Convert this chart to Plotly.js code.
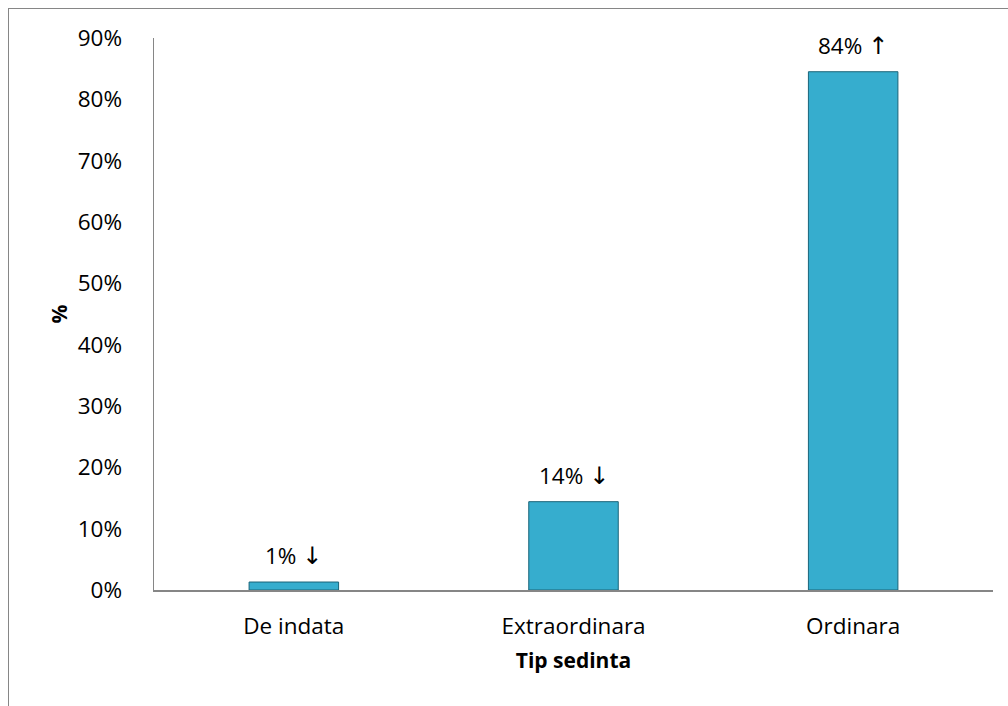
<!DOCTYPE html>
<html>
<head>
<meta charset="utf-8">
<script src="https://cdn.plot.ly/plotly-3.0.1.min.js"></script>
<style>
  html, body { margin: 0; padding: 0; background: #fff; overflow: hidden; }
  #wrap { position: relative; width: 1008px; height: 706px; overflow: hidden; }
  #chart { position: absolute; left: 0; top: 0; width: 1008px; height: 706px; }
  #frame { position: absolute; left: 8px; top: 8px; width: 1200px; height: 900px;
           border: 1.5px solid #868686; pointer-events: none; }
</style>
</head>
<body>
<div id="wrap">
  <div id="chart"></div>
  <div id="frame"></div>
</div>
<script>
const categories = ["De indata", "Extraordinara", "Ordinara"];
const values = [0.013, 0.144, 0.845];
const labelValues = ["1%", "14%", "84%"];
const labelArrows = ["\u2193", "\u2193", "\u2191"];
const yTickVals = [0, 0.1, 0.2, 0.3, 0.4, 0.5, 0.6, 0.7, 0.8, 0.9];
const yTickText = ["0%", "10%", "20%", "30%", "40%", "50%", "60%", "70%", "80%", "90%"];

const FONT = "'Open Sans', sans-serif";
const FS = 22.5;

const trace = {
  type: "bar",
  x: categories,
  y: values,
  width: 0.32,
  marker: { color: "#36ADCE", line: { color: "#1A6479", width: 1 } },
  hoverinfo: "skip"
};

const annotations = categories.map((c, i) => ({
  x: c, y: values[i], xref: "x", yref: "y",
  text: labelValues[i] + " <span style=\"font-family:'DejaVu Sans';font-size:24px\">" + labelArrows[i] + "</span>",
  showarrow: false, yanchor: "bottom", yshift: 9,
  font: { family: FONT, size: FS, color: "#000" }
}));

const layout = {
  width: 1008, height: 706,
  margin: { l: 154, r: 15, t: 38, b: 116 },
  paper_bgcolor: "#fff", plot_bgcolor: "#fff",
  showlegend: false,
  font: { family: FONT, size: FS, color: "#000" },
  xaxis: {
    type: "category",
    showgrid: false, zeroline: false,
    showline: true, linecolor: "#868686", linewidth: 1.5,
    ticks: "", ticklabelstandoff: 15,
    tickfont: { family: FONT, size: FS, color: "#000" },
    title: { text: "<b>Tip sedinta</b>", standoff: 14, font: { family: FONT, size: 21, color: "#000" } }
  },
  yaxis: {
    range: [0, 0.9],
    tickvals: yTickVals, ticktext: yTickText,
    showgrid: false, zeroline: false,
    showline: true, linecolor: "#868686", linewidth: 1.5,
    ticks: "", ticklabelstandoff: 26,
    tickfont: { family: FONT, size: FS, color: "#000" },
    title: { text: "<b>%</b>", standoff: 4, font: { family: FONT, size: 21, color: "#000" } }
  },
  annotations: annotations
};

Plotly.newPlot("chart", [trace], layout, { displayModeBar: false, staticPlot: true });
</script>
</body>
</html>
